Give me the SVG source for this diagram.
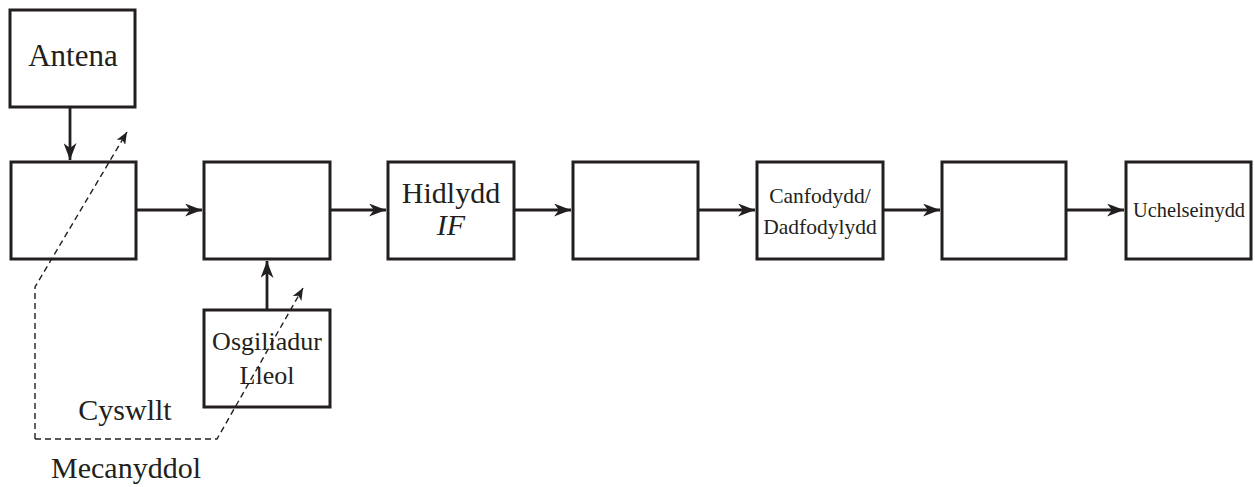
<svg xmlns="http://www.w3.org/2000/svg" width="1255" height="487" viewBox="0 0 1255 487">
<style>
.box{fill:#fff;stroke:#231f20;stroke-width:3}
.t{font-family:"Liberation Serif",serif;fill:#231f20;text-anchor:middle}
.c{fill:none;stroke:#231f20;stroke-width:2.8}
.d{fill:none;stroke:#231f20;stroke-width:1.4;stroke-dasharray:6 4}
</style>
<defs>
<marker id="ah" viewBox="0 0 17 13" refX="17" refY="6.5" markerWidth="17" markerHeight="13" markerUnits="userSpaceOnUse" orient="auto">
<path d="M0,0 L17,6.5 L0,13 L5,6.5 Z" fill="#231f20"/>
</marker>
<marker id="ahs" viewBox="0 0 12 10" refX="12" refY="5" markerWidth="12" markerHeight="10" markerUnits="userSpaceOnUse" orient="auto">
<path d="M0,0 L12,5 L0,10 L3,5 Z" fill="#231f20"/>
</marker>
</defs>
<g id="connectors">
<path class="c" d="M70,107 V160" marker-end="url(#ah)"/>
<path class="c" d="M136,210 H202" marker-end="url(#ah)"/>
<path class="c" d="M330,210 H386" marker-end="url(#ah)"/>
<path class="c" d="M514,210 H571" marker-end="url(#ah)"/>
<path class="c" d="M698,210 H755" marker-end="url(#ah)"/>
<path class="c" d="M883,210 H940" marker-end="url(#ah)"/>
<path class="c" d="M1066,210 H1124" marker-end="url(#ah)"/>
<path class="c" d="M267,310 V261" marker-end="url(#ah)"/>
</g>
<g id="antena"><rect class="box" x="10" y="10" width="125" height="97"/><text class="t" x="73" y="66" font-size="31">Antena</text></g>
<g id="box1"><rect class="box" x="11" y="162" width="125" height="97"/></g>
<g id="box2"><rect class="box" x="204" y="162" width="126" height="97"/></g>
<g id="hidlydd"><rect class="box" x="388" y="162" width="126" height="97"/><text class="t" x="451" y="203" font-size="30">Hidlydd</text><text class="t" x="451" y="235" font-size="30" font-style="italic">IF</text></g>
<g id="box4"><rect class="box" x="573" y="162" width="125" height="97"/></g>
<g id="canfodydd"><rect class="box" x="757" y="162" width="126" height="97"/><text class="t" x="820" y="203" font-size="21.5">Canfodydd/</text><text class="t" x="820" y="234" font-size="21.5">Dadfodylydd</text></g>
<g id="box6"><rect class="box" x="942" y="162" width="124" height="97"/></g>
<g id="uchelseinydd"><rect class="box" x="1126" y="162" width="125" height="97"/><text class="t" x="1189" y="217" font-size="20.4">Uchelseinydd</text></g>
<g id="osgiliadur"><rect class="box" x="204" y="310" width="126" height="97"/><text class="t" x="267" y="350" font-size="26">Osgiliadur</text><text class="t" x="267" y="384" font-size="26">Lleol</text></g>
<g id="mechanical-link">
<path class="d" d="M35,439 V287 L127,132" marker-end="url(#ahs)"/>
<path class="d" d="M35,439 H217 L303,288" marker-end="url(#ahs)"/>
<text class="t" x="125" y="420" font-size="30">Cyswllt</text>
<text class="t" x="126" y="478" font-size="30">Mecanyddol</text>
</g>
</svg>
